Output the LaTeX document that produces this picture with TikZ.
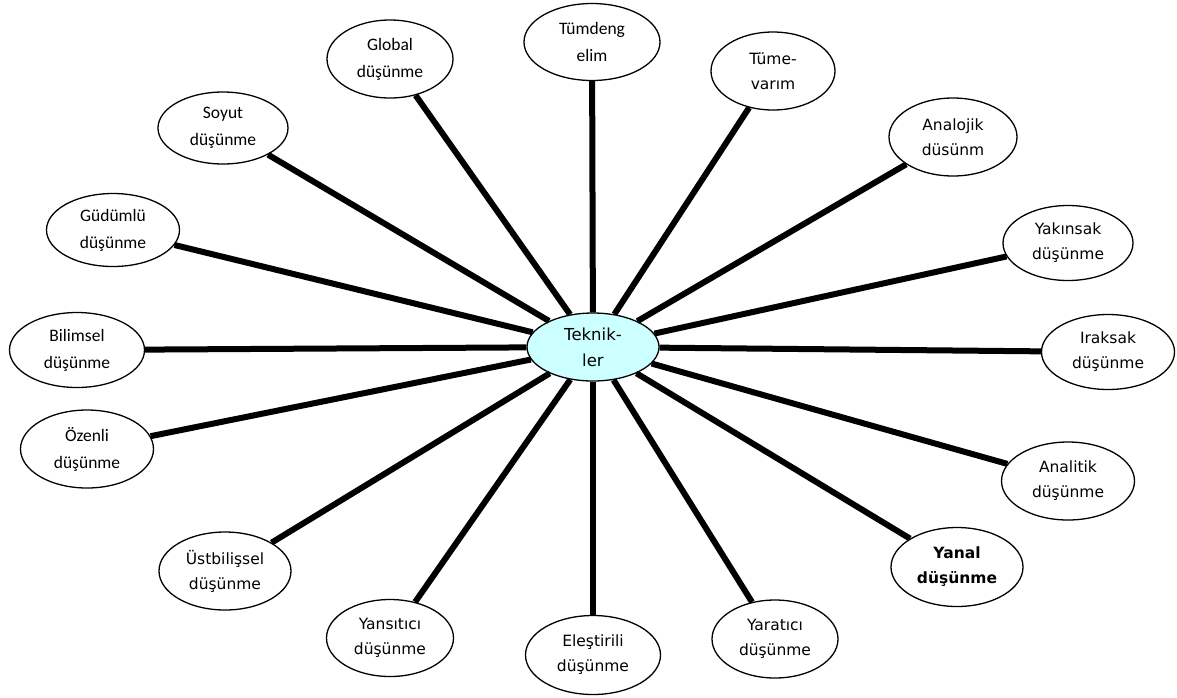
\documentclass[tikz,border=0pt]{standalone}
\usepackage{fontspec}
\usetikzlibrary{shapes.geometric}
\newfontfamily\tahf{DejaVu Sans}
\newfontfamily\calf{Carlito}
\definecolor{lcyan}{RGB}{204,255,255}
\begin{document}
\begin{tikzpicture}[x=1pt,y=-1pt,
  bub/.style={ellipse,draw,line width=1.3pt,fill=white,inner sep=0pt,align=center,minimum width=130pt,minimum height=77pt},
  tf/.style={font=\tahf\fontsize{15.5}{25}\selectfont},
  tfb/.style={font=\tahf\bfseries\fontsize{15.5}{25}\selectfont},
  cf/.style={font=\calf\fontsize{17.5}{27}\selectfont},
  conn/.style={line width=6pt}]
\useasboundingbox (0,0) rectangle (1177,697);
% outer nodes
\node[bub,cf,minimum width=136pt] (tumded) at (592,42) {Tümdeng\\elim};
\node[bub,cf,minimum width=126pt,minimum height=78pt] (global) at (390,59) {Global\\düşünme};
\node[bub,tf,minimum width=124pt,minimum height=78pt] (tumevarim) at (773,71) {Tüme-\\varım};
\node[bub,tf,minimum width=128pt,minimum height=78pt] (analojik) at (953,137) {Analojik\\düsünm};
\node[bub,cf,minimum width=130pt,minimum height=72pt] (soyut) at (223,128) {Soyut\\düşünme};
\node[bub,cf,minimum width=133pt,minimum height=73pt] (gudumlu) at (113,230) {Güdümlü\\düşünme};
\node[bub,tf,minimum width=130pt,minimum height=75pt] (yakinsak) at (1068,243) {Yakınsak\\düşünme};
\node[bub,cf,minimum width=135pt,minimum height=75pt] (bilimsel) at (77,350) {Bilimsel\\düşünme};
\node[bub,tf,minimum width=133pt,minimum height=75pt] (iraksak) at (1108,352) {Iraksak\\düşünme};
\node[bub,cf,minimum width=133pt,minimum height=78pt] (ozenli) at (87,449) {Özenli\\düşünme};
\node[bub,tf,minimum width=133pt,minimum height=78pt] (analitik) at (1068,481) {Analitik\\düşünme};
\node[bub,tf,minimum width=132pt,minimum height=78pt] (ustbilissel) at (225,571) {Üstbilişsel\\düşünme};
\node[bub,tfb,minimum width=132pt,minimum height=79pt] (yanal) at (957,567) {Yanal\\düşünme};
\node[bub,tf,minimum width=127pt,minimum height=77pt] (yansitici) at (390,638) {Yansıtıcı\\düşünme};
\node[bub,tf,minimum width=135pt,minimum height=79pt] (elestirili) at (593,655) {Eleştirili\\düşünme};
\node[bub,tf,minimum width=126pt,minimum height=78pt] (yaratici) at (775,639) {Yaratıcı\\düşünme};
% center
\node[bub,fill=lcyan,minimum width=132pt,minimum height=68pt,font=\tahf\fontsize{16.5}{26}\selectfont] (tek) at (593,347) {Teknik-\\ler};
% connectors
\foreach \n in {tumded,global,tumevarim,analojik,soyut,gudumlu,yakinsak,bilimsel,iraksak,ozenli,analitik,ustbilissel,yanal,yansitici,elestirili,yaratici}
  \draw[conn] (tek) -- (\n);
\end{tikzpicture}
\end{document}
